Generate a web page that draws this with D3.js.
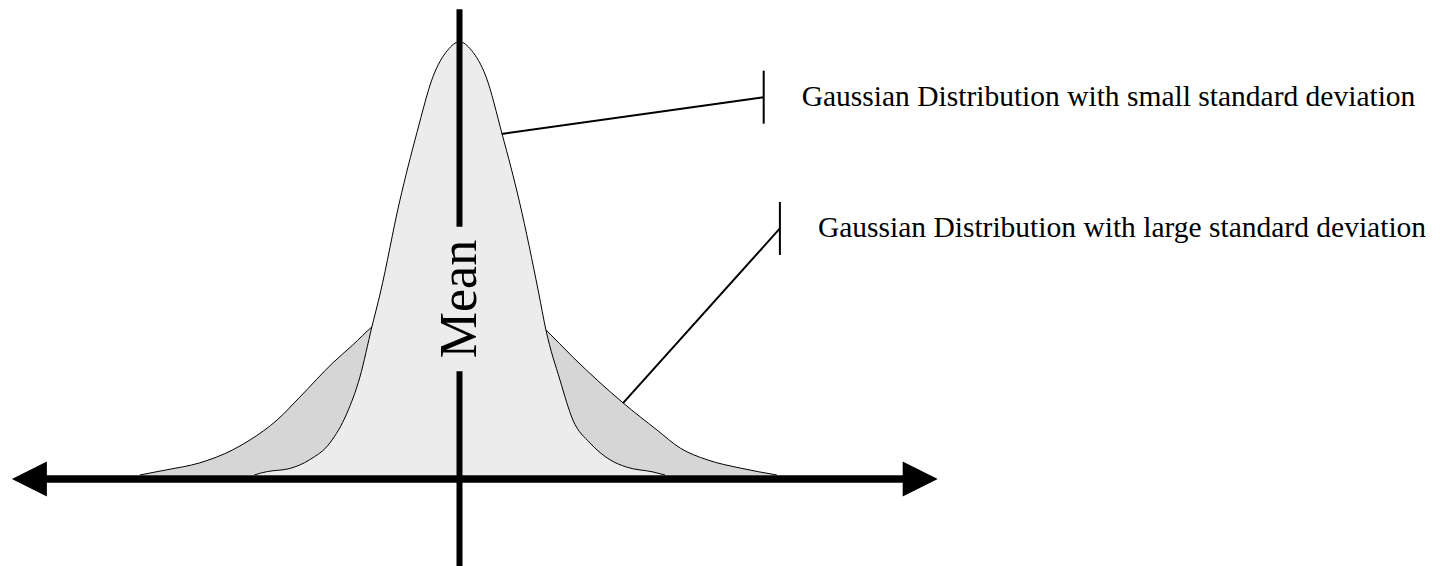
<!DOCTYPE html>
<html>
<head>
<meta charset="utf-8">
<script src="https://cdn.jsdelivr.net/npm/d3@7"></script>
<style>
  html, body { margin: 0; padding: 0; background: #ffffff; }
  svg { display: block; }
</style>
</head>
<body>
<svg id="chart" width="1445" height="566"></svg>
<script>
// ---- data (x in units of the small standard deviation, y relative to the small peak) ----
const narrowX = [-3.42, -3.3, -3.2, -2.83, -2.5, -2.16, -1.875, -1.66, -1.46, -1.32, -1.0, -0.71, -0.44, -0.2, 0,
                 0.2, 0.44, 0.71, 1.0, 1.32, 1.44, 1.675, 1.89, 2.175, 2.51, 2.79, 3.225, 3.425];
const narrowY = [0, 0.005, 0.008, 0.015, 0.035, 0.074, 0.143, 0.226, 0.342, 0.42, 0.63, 0.79, 0.92, 0.98, 1,
                 0.98, 0.92, 0.787, 0.63, 0.42, 0.335, 0.219, 0.127, 0.074, 0.035, 0.018, 0.007, 0];

const wideX = [-5.33, -4.88, -4.33, -3.78, -3.49, -3.04, -2.66, -2.11, -1.78, -1.46, -1.0, -0.5, 0,
               0.5, 1.0, 1.44, 1.89, 2.73, 3.29, 3.68, 4.13, 4.68, 5.29];
const wideY = [0, 0.012, 0.028, 0.058, 0.081, 0.127, 0.18, 0.259, 0.30, 0.342, 0.39, 0.43, 0.445,
               0.43, 0.39, 0.335, 0.272, 0.166, 0.104, 0.062, 0.035, 0.016, 0];

const axisExtent = [-7.46, 7.97];      // horizontal axis arrow tips
const meanValue = 0;
const meanLineExtent = [-0.21, 1.075]; // vertical mean line extent
const meanLabel = "Mean";

const labels = ["Gaussian Distribution with small standard deviation",
                "Gaussian Distribution with large standard deviation"];
const anchorX = [0.703, 2.725];        // point on each curve
const anchorY = [0.787, 0.166];
const tickX = [5.07, 5.34];            // end of each leader line
const tickY = [0.872, 0.569];

// ---- scales ----
const svg = d3.select("#chart");
const x = d3.scaleLinear().domain([0, 1]).range([459.5, 519.5]);
const y = d3.scaleLinear().domain([0, 1]).range([475, 41.7]);

const narrow = narrowX.map((v, i) => [v, narrowY[i]]);
const wide = wideX.map((v, i) => [v, wideY[i]]);

const area = d3.area().x(d => x(d[0])).y0(y(0)).y1(d => y(d[1])).curve(d3.curveMonotoneX);
const line = d3.line().x(d => x(d[0])).y(d => y(d[1])).curve(d3.curveMonotoneX);

// wide distribution
svg.append("path").datum(wide).attr("d", area).attr("fill", "#d6d6d6");
svg.append("path").datum(wide).attr("d", line).attr("fill", "none").attr("stroke", "#000").attr("stroke-width", 1);
// narrow distribution
svg.append("path").datum(narrow).attr("d", area).attr("fill", "#ececec");
svg.append("path").datum(narrow).attr("d", line).attr("fill", "none").attr("stroke", "#000").attr("stroke-width", 1);

// mean line with gap for label
const labelCenterY = 299;
const fontMean = 52;
const labelG = svg.append("g");
const meanText = labelG.append("text")
  .attr("transform", `translate(${x(meanValue) + 16.5},${labelCenterY}) rotate(-90)`)
  .attr("text-anchor", "middle")
  .attr("font-family", "'Liberation Serif', 'Times New Roman', serif")
  .attr("font-size", fontMean)
  .attr("fill", "#000")
  .text(meanLabel);
const halfLen = meanText.node().getComputedTextLength() / 2;
const gapPad = 13;
svg.append("line")
  .attr("x1", x(meanValue)).attr("x2", x(meanValue))
  .attr("y1", y(meanLineExtent[1])).attr("y2", labelCenterY - halfLen - gapPad)
  .attr("stroke", "#000").attr("stroke-width", 6);
svg.append("line")
  .attr("x1", x(meanValue)).attr("x2", x(meanValue))
  .attr("y1", labelCenterY + halfLen + gapPad).attr("y2", y(meanLineExtent[0]))
  .attr("stroke", "#000").attr("stroke-width", 6);

// horizontal axis with arrows
const axisY = y(0) + 4;
const head = 35;
svg.append("line")
  .attr("x1", x(axisExtent[0]) + head - 2).attr("x2", x(axisExtent[1]) - head + 2)
  .attr("y1", axisY).attr("y2", axisY)
  .attr("stroke", "#000").attr("stroke-width", 7.5);
const lt = x(axisExtent[0]), rt = x(axisExtent[1]);
svg.append("path")
  .attr("d", `M${lt},${axisY}L${lt + head},${axisY - head / 2}L${lt + head},${axisY + head / 2}Z`)
  .attr("fill", "#000");
svg.append("path")
  .attr("d", `M${rt},${axisY}L${rt - head},${axisY - head / 2}L${rt - head},${axisY + head / 2}Z`)
  .attr("fill", "#000");

// annotations
labels.forEach((lab, i) => {
  const tx = x(tickX[i]), ty = y(tickY[i]);
  svg.append("line")
    .attr("x1", x(anchorX[i])).attr("y1", y(anchorY[i]))
    .attr("x2", tx).attr("y2", ty)
    .attr("stroke", "#000").attr("stroke-width", 2);
  svg.append("line")
    .attr("x1", tx).attr("x2", tx)
    .attr("y1", ty - 26.5).attr("y2", ty + 26.5)
    .attr("stroke", "#000").attr("stroke-width", 2);
  svg.append("text")
    .attr("x", tx + 38).attr("y", ty + 9)
    .attr("font-family", "'Liberation Serif', 'Times New Roman', serif")
    .attr("font-size", 29.5)
    .attr("fill", "#000")
    .text(lab);
});
</script>
</body>
</html>
